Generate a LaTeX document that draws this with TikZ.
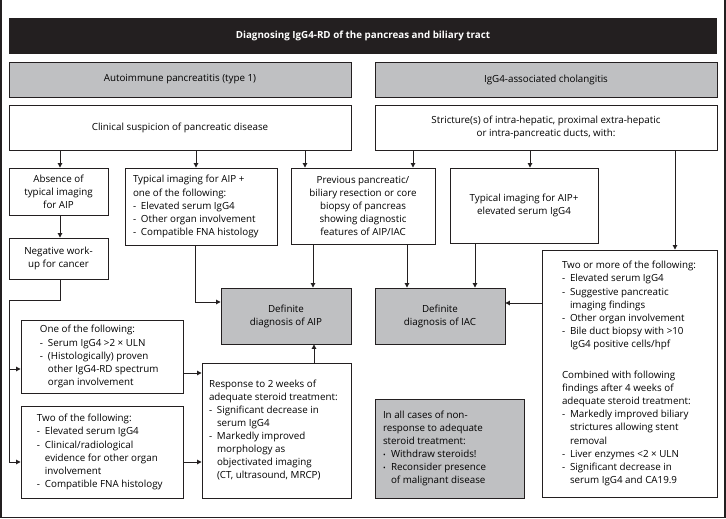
\documentclass[tikz,border=0pt]{standalone}
\usepackage{fontspec}
\setmainfont{Open Sans}
\usetikzlibrary{arrows.meta}
\definecolor{ink}{HTML}{231F20}
\definecolor{boxgray}{HTML}{BFC0C2}
\newcommand\fs{\fontsize{9.8bp}{13.1bp}\selectfont}
\newcommand\dd{\makebox[8bp][l]{-}}
\newcommand\ii{\hspace*{8bp}}
\newcommand\bb{\makebox[8bp][l]{\raisebox{0.5bp}{\scriptsize •}}}
\newcommand\lt[2]{\makebox[#1bp][l]{\begin{tabular}{@{}l@{}}#2\end{tabular}}}
% style, name, x1, y1, x2, y2, text
\newcommand\mkbox[7]{%
  \pgfmathsetmacro\cxx{(#3+#5)/2}\pgfmathsetmacro\cyy{(#4+#6)/2}%
  \pgfmathsetmacro\ww{#5-#3}\pgfmathsetmacro\hh{#6-#4}%
  \node[#1, minimum width=\ww bp, minimum height=\hh bp] (#2) at (\cxx,\cyy) {#7};}
\tikzset{
  box/.style={draw=ink, line width=0.9bp, inner sep=0pt, align=center, font=\fs},
  gbox/.style={box, fill=boxgray},
  titlebox/.style={fill=ink, inner sep=0pt, text=white, font=\fs\bfseries},
  ln/.style={draw=ink, line width=0.9bp},
  arr/.style={ln, -{Triangle[length=4.5bp,width=4.5bp]}},
}
\begin{document}
\begin{tikzpicture}[x=1bp,y=-1bp]
\useasboundingbox (0,0) rectangle (726,519);
\draw[ink, line width=1.5bp] (1,0) -- (1,517.5) -- (725,517.5) -- (725,0);

\mkbox{titlebox}{title}{9}{18}{717}{54}{Diagnosing IgG4-RD of the pancreas and biliary tract}
\mkbox{gbox}{aip}{9}{62}{351}{97}{Autoimmune pancreatitis (type 1)}
\mkbox{gbox}{iac}{375}{62}{717}{97}{IgG4-associated cholangitis}
\mkbox{box}{clin}{9}{105}{351}{150}{Clinical suspicion of pancreatic disease}
\mkbox{box}{strict}{375}{105}{717}{150}{Stricture(s) of intra-hepatic, proximal extra-hepatic\\or intra-pancreatic ducts, with:}

\mkbox{box}{absn}{9}{168}{108}{215}{Absence of\\typical imaging\\for AIP}
\mkbox{box}{typa}{125}{168}{277}{245}{\lt{136}{Typical imaging for AIP +\\one of the following:\\\dd Elevated serum IgG4\\\dd Other organ involvement\\\dd Compatible FNA histology}}
\mkbox{box}{prev}{291}{168}{435}{244}{Previous pancreatic/\\biliary resection or core\\biopsy of pancreas\\showing diagnostic\\features of AIP/IAC}
\mkbox{box}{typb}{450}{168}{598}{243}{Typical imaging for AIP+\\elevated serum IgG4}
\mkbox{box}{neg}{9}{238}{108}{279}{Negative work-\\up for cancer}

\mkbox{gbox}{daip}{221}{288}{351}{344}{Definite\\diagnosis of AIP}
\mkbox{gbox}{diac}{375}{288}{505}{344}{Definite\\diagnosis of IAC}

\mkbox{box}{one}{21}{320}{183}{393}{\lt{124}{One of the following:\\\dd Serum IgG4 >2 × ULN\\\dd (Histologically) proven\\\ii other IgG4-RD spectrum\\\ii organ involvement}}
\mkbox{box}{two}{21}{406}{183}{498}{\lt{130}{Two of the following:\\\dd Elevated serum IgG4\\\dd Clinical/radiological\\\ii evidence for other organ\\\ii involvement\\\dd Compatible FNA histology}}
\mkbox{box}{resp}{202}{363}{351}{498}{\lt{135}{Response to 2 weeks of\\adequate steroid treatment:\\\dd Significant decrease in\\\ii serum IgG4\\\dd Markedly improved\\\ii morphology as\\\ii objectivated imaging\\\ii (CT, ultrasound, MRCP)}}
\mkbox{gbox}{allc}{375}{399}{524}{498}{\lt{133}{In all cases of non-\\response to adequate\\steroid treatment:\\\bb Withdraw steroids!\\\bb Reconsider presence\\\ii of malignant disease}}
\mkbox{box}{more}{542}{250}{717}{497}{\lt{135}{Two or more of the following:\\\dd Elevated serum IgG4\\\dd Suggestive pancreatic\\\ii imaging findings\\\dd Other organ involvement\\\dd Bile duct biopsy with >10\\\ii IgG4 positive cells/hpf\\[18bp]Combined with following\\findings after 4 weeks of\\adequate steroid treatment:\\\dd Markedly improved biliary\\\ii strictures allowing stent\\\ii removal\\\dd Liver enzymes <2 × ULN\\\dd Significant decrease in\\\ii serum IgG4 and CA19.9}}

% connectors
\draw[arr] (60,0 |- clin.south) -- (60,0 |- absn.north);
\draw[arr] (196,0 |- clin.south) -- (196,0 |- typa.north);
\draw[arr] (305,0 |- clin.south) -- (305,0 |- prev.north);
\draw[arr] (413,0 |- strict.south) -- (413,0 |- prev.north);
\draw[arr] (530,0 |- strict.south) -- (530,0 |- typb.north);
\draw[arr] (675,0 |- strict.south) -- (675,0 |- more.north);
\draw[arr] (60,0 |- absn.south) -- (60,0 |- neg.north);

\coordinate (n1) at (60,300);
\coordinate (n2) at (9,300);
\coordinate (n3) at (9,462);
\coordinate (n4) at (9,369);
\draw[ln] (60,0 |- neg.south) -- (n1) -- (n2) -- (n3);
\draw[arr] (n3) -- (two.west |- n3);
\draw[arr] (n4) -- (one.west |- n4);

\coordinate (t1) at (195,302);
\draw[arr] (195,0 |- typa.south) -- (t1) -- (daip.west |- t1);
\draw[arr] (313,0 |- prev.south) -- (313,0 |- daip.north);
\draw[arr] (407,0 |- prev.south) -- (407,0 |- diac.north);
\draw[arr] (475,0 |- typb.south) -- (475,0 |- diac.north);
\draw[arr] (more.west |- 0,303) -- (diac.east |- 0,303);
\draw[arr] (one.east |- 0,373) -- (resp.west |- 0,373);
\draw[arr] (two.east |- 0,462) -- (resp.west |- 0,462);
\draw[arr] (314,0 |- resp.north) -- (314,0 |- daip.south);
\end{tikzpicture}
\end{document}
